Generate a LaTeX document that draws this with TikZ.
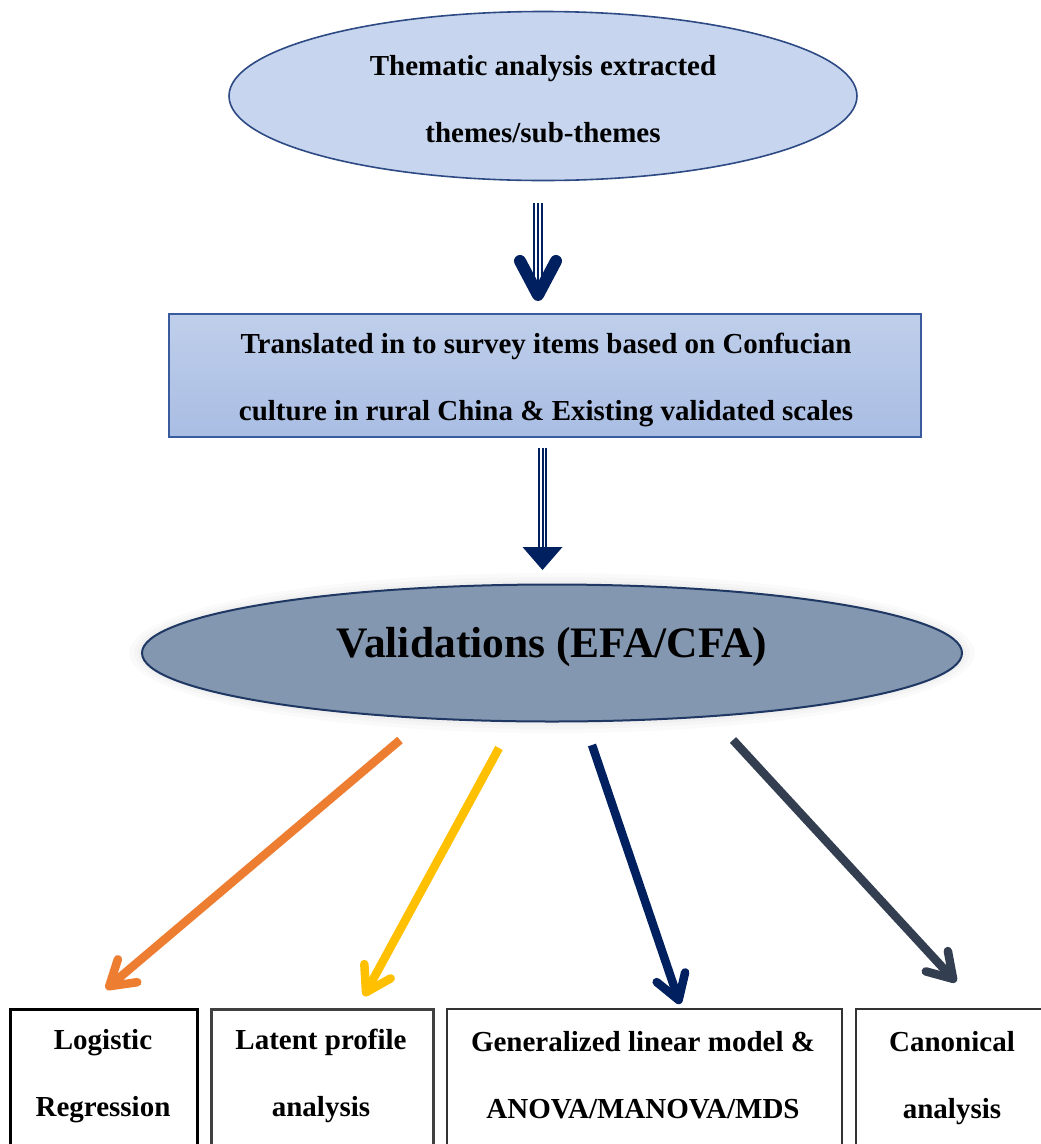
\documentclass[tikz,border=0pt]{standalone}
\usepackage{fontspec}
\setmainfont{Liberation Serif}
\usetikzlibrary{arrows.meta,shapes.geometric,calc}

\definecolor{navy}{HTML}{002060}
\definecolor{ellfill}{HTML}{C7D6EE}
\definecolor{ellline}{HTML}{2E4A85}
\definecolor{boxtop}{HTML}{BFCFEB}
\definecolor{boxbot}{HTML}{A9BDE3}
\definecolor{boxline}{HTML}{3A5C9E}
\definecolor{valfill}{HTML}{8497B0}
\definecolor{valline}{HTML}{1F3763}
\definecolor{orangeA}{HTML}{ED7D31}
\definecolor{goldA}{HTML}{FFC000}
\definecolor{slateA}{HTML}{333F50}

\tikzset{
  lbl/.style={font=\fontsize{29}{67}\selectfont\bfseries, align=center, anchor=base, inner sep=0},
  resbox/.style={draw, fill=white, anchor=north west, inner sep=0},
  fanarrow/.style={line width=8.5, -{Straight Barb[length=24, width=30, line cap=round, line join=round]}},
  glow/.style={ellipse, inner sep=0, fill=black, fill opacity=0.018},
}

\begin{document}
\begin{tikzpicture}[x=1pt,y=-1pt]
  \clip (0,0) rectangle (1041,1144);
  \fill[white] (0,0) rectangle (1041,1144);

  % source of the survey items
  \node[ellipse, draw=ellline, line width=1.6, fill=ellfill,
        minimum width=628, minimum height=169, inner sep=0] (theme) at (543,96) {};
  % (base anchor of a two-line label sits on its last line)
  \node[lbl] (themetxt) at (543,142) {Thematic analysis extracted\\themes/sub-themes};

  % item translation step
  \node[draw=boxline, line width=2.5, top color=boxtop, bottom color=boxbot,
        minimum width=752, minimum height=123, inner sep=0] (trans) at (545,375.5) {};
  \node[lbl] (transtxt) at (546,420)
    {Translated in to survey items based on Confucian\\culture in rural China \& Existing validated scales};

  % validation step, with a faint soft halo
  \node[glow, minimum width=846, minimum height=160] (halo1) at (552,653) {};
  \node[glow, minimum width=836, minimum height=152] (halo2) at (552,653) {};
  \node[glow, minimum width=828, minimum height=145] (halo3) at (552,653) {};
  \node[ellipse, draw=valline, line width=2, fill=valfill,
        minimum width=820, minimum height=137, inner sep=0] (valid) at (552,653) {};
  \node[font=\fontsize{43.5}{50}\selectfont\bfseries, anchor=base, inner sep=0] (validtxt)
    at (552,657) {Validations (EFA/CFA)};

  % striped arrow with open head: themes -> items
  \coordinate (a1s) at (538,203);
  \coordinate (a1e) at (538,295);
  \draw[navy, line width=10] (a1s) -- (a1e);
  \draw[white, line width=6] (a1s) -- ($(a1e)+(0,-8)$);
  \draw[navy, line width=2] (a1s) -- (a1e);
  \draw[navy, line width=12, line cap=round, line join=round]
    ($(a1e)+(-18,-34)$) -- (a1e) -- ($(a1e)+(18,-34)$);

  % striped arrow with solid head: items -> validation
  \coordinate (a2s) at (542.5,448);
  \coordinate (a2e) at (542.5,548);
  \draw[navy, line width=9] (a2s) -- (a2e);
  \draw[white, line width=5.5] (a2s) -- (a2e);
  \draw[navy, line width=2] (a2s) -- (a2e);
  \fill[navy] ($(a2e)+(-20,-1)$) -- ($(a2e)+(20,-1)$) -- ($(a2e)+(0,22)$) -- cycle;

  % analysis methods
  \node[resbox, line width=3, draw=black, minimum width=187, minimum height=170] (b1) at (9,1008) {};
  \node[resbox, line width=2.6, draw=black!75, minimum width=222, minimum height=170] (b2) at (210,1008) {};
  \node[resbox, line width=2.2, draw=black!80, minimum width=395, minimum height=170] (b3) at (446,1008) {};
  \node[resbox, line width=2.2, draw=black!80, minimum width=200, minimum height=170] (b4) at (855,1008) {};

  \node[lbl] (b1txt) at (103,1116) {Logistic\\Regression};
  \node[lbl] (b2txt) at (321,1116) {Latent profile\\analysis};
  \node[lbl] (b3txt) at (643,1118) {Generalized linear model \&\\ANOVA/MANOVA/MDS};
  \node[lbl] (b4txt) at (952,1118) {Canonical\\analysis};

  % fan of arrows from validation to methods
  \coordinate (o1) at (400,740);  \coordinate (o2) at (106,989);
  \coordinate (y1) at (499,748);  \coordinate (y2) at (364,996);
  \coordinate (n1) at (592,745);  \coordinate (n2) at (680,1004);
  \coordinate (s1) at (733,740);  \coordinate (s2) at (956,982);
  \draw[fanarrow, orangeA] (o1) -- (o2);
  \draw[fanarrow, goldA] (y1) -- (y2);
  \draw[fanarrow, navy] (n1) -- (n2);
  \draw[fanarrow, slateA] (s1) -- (s2);
\end{tikzpicture}
\end{document}
